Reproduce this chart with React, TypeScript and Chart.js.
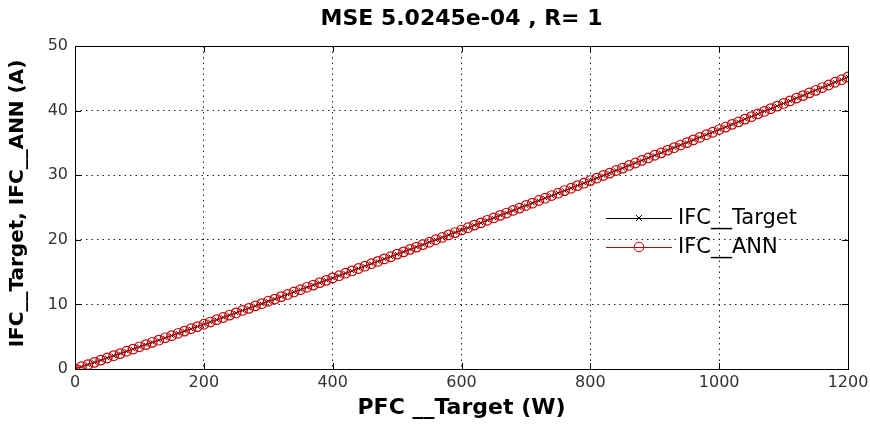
import React, { useEffect, useRef } from "react";
import { Chart, registerables } from "chart.js";

Chart.register(...registerables);

const TITLE = "MSE 5.0245e-04 , R= 1";
const X_TITLE = "PFC __Target (W)";
const Y_TITLE = "IFC__Target, IFC__ANN (A)";
const SERIES_NAMES = ["IFC__Target", "IFC__ANN"];

const X_TICKS = [0, 200, 400, 600, 800, 1000, 1200];
const Y_TICKS = [0, 10, 20, 30, 40, 50];

const PFC = [
  0, 10, 20, 30, 40, 50, 60, 70, 80, 90, 100, 110, 120, 130, 140, 150, 160, 170, 180, 190,
  200, 210, 220, 230, 240, 250, 260, 270, 280, 290, 300, 310, 320, 330, 340, 350, 360, 370, 380, 390,
  400, 410, 420, 430, 440, 450, 460, 470, 480, 490, 500, 510, 520, 530, 540, 550, 560, 570, 580, 590,
  600, 610, 620, 630, 640, 650, 660, 670, 680, 690, 700, 710, 720, 730, 740, 750, 760, 770, 780, 790,
  800, 810, 820, 830, 840, 850, 860, 870, 880, 890, 900, 910, 920, 930, 940, 950, 960, 970, 980, 990,
  1000, 1010, 1020, 1030, 1040, 1050, 1060, 1070, 1080, 1090, 1100, 1110, 1120, 1130, 1140, 1150, 1160, 1170, 1180, 1190,
  1200,
];

const IFC_TARGET = [
  0.0, 0.34, 0.68, 1.02, 1.36, 1.71, 2.05, 2.39, 2.74, 3.08, 3.43, 3.78, 4.12, 4.47, 4.82, 5.17, 5.52, 5.87, 6.22, 6.57,
  6.92, 7.28, 7.63, 7.98, 8.34, 8.69, 9.05, 9.4, 9.76, 10.12, 10.48, 10.83, 11.19, 11.55, 11.91, 12.28, 12.64, 13.0, 13.36, 13.73,
  14.09, 14.45, 14.82, 15.19, 15.55, 15.92, 16.29, 16.66, 17.03, 17.39, 17.77, 18.14, 18.51, 18.88, 19.25, 19.63, 20.0, 20.37, 20.75, 21.13,
  21.5, 21.88, 22.26, 22.63, 23.01, 23.39, 23.77, 24.15, 24.54, 24.92, 25.3, 25.68, 26.07, 26.45, 26.84, 27.22, 27.61, 27.99, 28.38, 28.77,
  29.16, 29.55, 29.94, 30.33, 30.72, 31.11, 31.5, 31.9, 32.29, 32.68, 33.08, 33.47, 33.87, 34.27, 34.66, 35.06, 35.46, 35.86, 36.26, 36.66,
  37.06, 37.46, 37.86, 38.27, 38.67, 39.07, 39.48, 39.88, 40.29, 40.7, 41.1, 41.51, 41.92, 42.33, 42.74, 43.15, 43.56, 43.97, 44.38, 44.79,
  45.21,
];

const IFC_ANN = [
  0.02, 0.35, 0.67, 1.03, 1.37, 1.7, 2.06, 2.38, 2.75, 3.07, 3.44, 3.77, 4.13, 4.46, 4.83, 5.16, 5.53, 5.86, 6.23, 6.56,
  6.93, 7.27, 7.64, 7.97, 8.35, 8.68, 9.06, 9.39, 9.77, 10.11, 10.49, 10.82, 11.2, 11.54, 11.92, 12.27, 12.65, 12.99, 13.37, 13.72,
  14.1, 14.44, 14.83, 15.18, 15.56, 15.91, 16.3, 16.65, 17.04, 17.38, 17.78, 18.13, 18.52, 18.87, 19.26, 19.62, 20.01, 20.36, 20.76, 21.12,
  21.51, 21.87, 22.27, 22.62, 23.02, 23.38, 23.78, 24.14, 24.55, 24.91, 25.31, 25.67, 26.08, 26.44, 26.85, 27.21, 27.62, 27.98, 28.39, 28.76,
  29.17, 29.54, 29.95, 30.32, 30.73, 31.1, 31.51, 31.89, 32.3, 32.67, 33.09, 33.46, 33.88, 34.26, 34.67, 35.05, 35.47, 35.85, 36.27, 36.65,
  37.07, 37.45, 37.87, 38.26, 38.68, 39.06, 39.49, 39.87, 40.3, 40.69, 41.11, 41.5, 41.93, 42.32, 42.75, 43.14, 43.57, 43.96, 44.39, 44.78,
  45.2,
];

const TARGET_COLOR = "#000000";
const ANN_COLOR = "#c80000";

const matlabPlugin = {
  id: "matlabDecor",
  afterDatasetsDraw(chart: any) {
    const { ctx, chartArea, scales } = chart;
    const { left, right, top, bottom } = chartArea;
    ctx.save();
    ctx.strokeStyle = "#000";
    ctx.lineWidth = 1;
    ctx.strokeRect(Math.round(left) + 0.5, Math.round(top) + 0.5, Math.round(right - left), Math.round(bottom - top));
    const tl = 6;
    ctx.beginPath();
    X_TICKS.forEach((v) => {
      const px = Math.round(scales.x.getPixelForValue(v)) + 0.5;
      ctx.moveTo(px, bottom);
      ctx.lineTo(px, bottom - tl);
      ctx.moveTo(px, top);
      ctx.lineTo(px, top + tl);
    });
    Y_TICKS.forEach((v) => {
      const py = Math.round(scales.y.getPixelForValue(v)) + 0.5;
      ctx.moveTo(left, py);
      ctx.lineTo(left + tl, py);
      ctx.moveTo(right, py);
      ctx.lineTo(right - tl, py);
    });
    ctx.stroke();
    ctx.restore();
  },
  afterDraw(chart: any) {
    const { ctx, chartArea } = chart;
    const { left, right, top, bottom } = chartArea;
    ctx.save();
    ctx.fillStyle = "#000";
    ctx.textAlign = "center";
    ctx.textBaseline = "middle";
    ctx.font = 'bold 22px "DejaVu Sans"';
    ctx.fillText(TITLE, (left + right) / 2, 19);
    ctx.fillText(X_TITLE, (left + right) / 2, 408);
    ctx.save();
    ctx.font = 'bold 20px "DejaVu Sans"';
    ctx.translate(18, (top + bottom) / 2 - 4);
    ctx.rotate(-Math.PI / 2);
    ctx.fillText(Y_TITLE, 0, 0);
    ctx.restore();

    const rows = [218, 247];
    const x0 = 606;
    const x1 = 672;
    const xm = 639;
    chart.data.datasets.forEach((ds: any, i: number) => {
      const y = rows[i];
      ctx.strokeStyle = ds.borderColor;
      ctx.lineWidth = 1;
      ctx.beginPath();
      ctx.moveTo(x0, y + 0.5);
      ctx.lineTo(x1, y + 0.5);
      ctx.stroke();
      ctx.beginPath();
      if (ds.pointStyle === "crossRot") {
        const r = 3;
        ctx.moveTo(xm - r, y - r);
        ctx.lineTo(xm + r, y + r);
        ctx.moveTo(xm - r, y + r);
        ctx.lineTo(xm + r, y - r);
      } else {
        ctx.arc(xm, y, ds.pointRadius, 0, Math.PI * 2);
      }
      ctx.stroke();
      ctx.fillStyle = "#000";
      ctx.textAlign = "left";
      ctx.font = '21px "DejaVu Sans"';
      ctx.fillText(SERIES_NAMES[i], 678, y + 1);
    });
    ctx.restore();
  },
};

export default function App() {
  const canvasRef = useRef<HTMLCanvasElement | null>(null);

  useEffect(() => {
    if (!canvasRef.current) return;
    const chart = new Chart(canvasRef.current, {
      type: "line",
      data: {
        datasets: [
          {
            label: SERIES_NAMES[0],
            data: PFC.map((x, i) => ({ x, y: IFC_TARGET[i] })),
            borderColor: TARGET_COLOR,
            backgroundColor: TARGET_COLOR,
            borderWidth: 1,
            pointStyle: "crossRot",
            pointRadius: 3,
            pointBorderWidth: 1,
            pointBorderColor: TARGET_COLOR,
            order: 1,
          },
          {
            label: SERIES_NAMES[1],
            data: PFC.map((x, i) => ({ x, y: IFC_ANN[i] })),
            borderColor: ANN_COLOR,
            backgroundColor: "rgba(0,0,0,0)",
            borderWidth: 1,
            pointStyle: "circle",
            pointRadius: 4.8,
            pointBorderWidth: 1.2,
            pointBorderColor: ANN_COLOR,
            pointBackgroundColor: "rgba(0,0,0,0)",
            order: 0,
          },
        ],
      },
      options: {
        animation: false,
        responsive: false,
        devicePixelRatio: 1,
        layout: { padding: { top: 46, right: 22, left: 0, bottom: 0 } },
        plugins: {
          legend: { display: false },
          title: { display: false },
          tooltip: { enabled: false },
        },
        scales: {
          x: {
            type: "linear",
            min: 0,
            max: 1200,
            afterFit: (s: any) => {
              s.height = 55;
              s.paddingLeft = 0;
              s.paddingRight = 0;
            },
            afterBuildTicks: (s: any) => {
              s.ticks = X_TICKS.map((v) => ({ value: v }));
            },
            ticks: {
              color: "#333",
              font: { family: "DejaVu Sans", size: 16 },
              padding: 4,
              maxRotation: 0,
              callback: (v: any) => String(v),
            },
            grid: {
              color: "#222",
              drawTicks: false,
            },
            border: { display: false, dash: [1.5, 4] },
          },
          y: {
            type: "linear",
            min: 0,
            max: 50,
            afterFit: (s: any) => {
              s.width = 75;
              s.paddingTop = 0;
              s.paddingBottom = 0;
            },
            afterBuildTicks: (s: any) => {
              s.ticks = Y_TICKS.map((v) => ({ value: v }));
            },
            ticks: {
              color: "#333",
              font: { family: "DejaVu Sans", size: 16 },
              padding: 7,
              callback: (v: any) => String(v),
            },
            grid: {
              color: "#222",
              drawTicks: false,
            },
            border: { display: false, dash: [1.5, 4] },
          },
        },
      },
      plugins: [matlabPlugin],
    });
    return () => chart.destroy();
  }, []);

  return (
    <div style={{ position: "fixed", left: 0, top: 0, width: 870, height: 424, background: "#fff" }}>
      <canvas ref={canvasRef} width={870} height={424} style={{ display: "block" }} />
    </div>
  );
}
